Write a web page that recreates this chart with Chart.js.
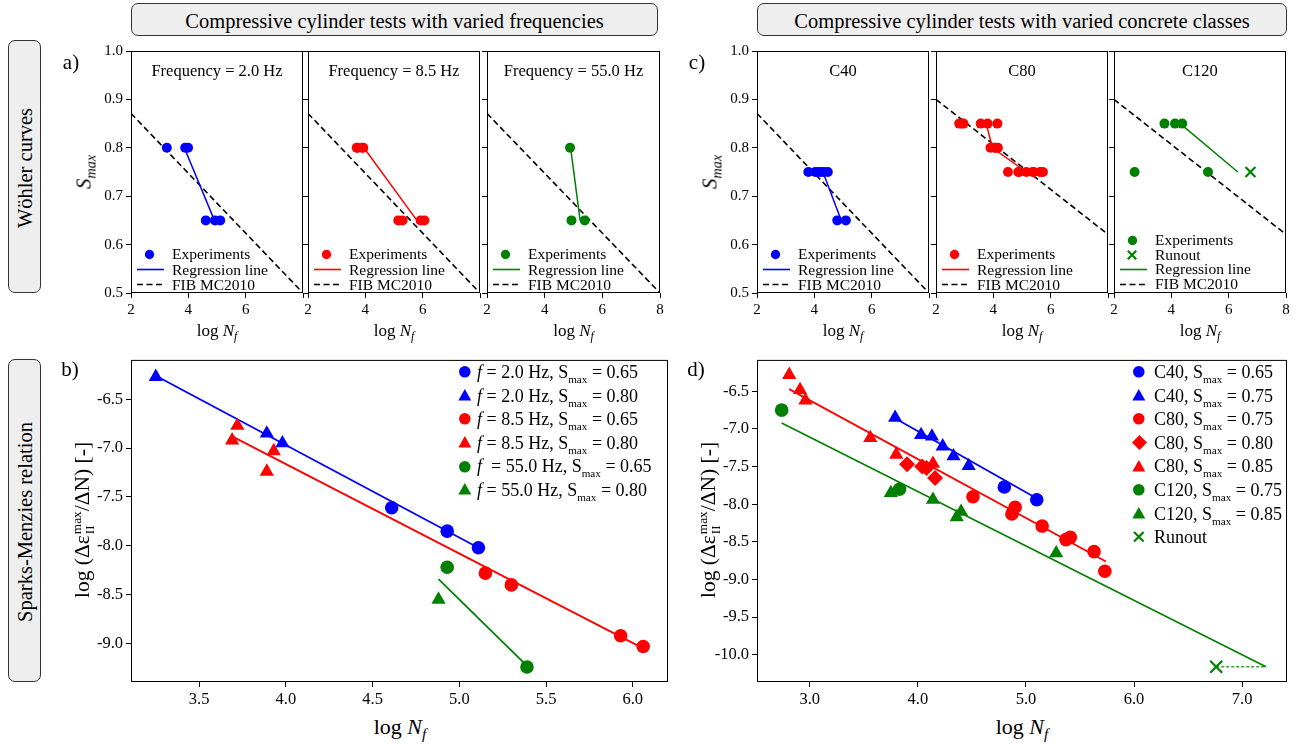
<!DOCTYPE html>
<html>
<head>
<meta charset="utf-8">
<script src="https://cdn.jsdelivr.net/npm/chart.js@4/dist/chart.umd.min.js"></script>
<style>
body{margin:0;background:#fff;}
#fig{position:relative;width:1301px;height:744px;font-family:'Liberation Serif','Times New Roman',serif;color:#000;overflow:hidden;background:#fff}
#fig canvas{position:absolute}
.t{position:absolute;white-space:nowrap;line-height:1}
.box{position:absolute;border:1px solid #333;border-radius:7px;background:#eeeeee;box-sizing:border-box}
sub,sup{line-height:0}
.ss{display:inline-flex;flex-direction:column;vertical-align:middle;font-size:0.62em;line-height:0.95;margin-left:1px}
</style>
</head>
<body>
<div id="fig"></div>
<script>
// ---- data: Wöhler curves (log Nf vs Smax) ----
const fibX = [2, 8];
const fibY1 = [0.871, 0.5];
const fibY2 = [0.90, 0.621];

const f2X = [3.25, 3.89, 3.99, 4.61, 4.93, 5.11];
const f2Y = [0.80, 0.80, 0.80, 0.65, 0.65, 0.65];
const f2RegX = [3.86, 4.91];
const f2RegY = [0.80, 0.65];

const f85X = [3.70, 3.73, 3.89, 3.93, 5.15, 5.30, 5.93, 6.06];
const f85Y = [0.80, 0.80, 0.80, 0.80, 0.65, 0.65, 0.65, 0.65];
const f85RegX = [3.95, 5.80];
const f85RegY = [0.80, 0.65];

const f55X = [4.88, 4.93, 5.39];
const f55Y = [0.80, 0.65, 0.65];
const f55RegX = [4.90, 5.23];
const f55RegY = [0.80, 0.65];

const c40X = [3.79, 4.03, 4.13, 4.23, 4.33, 4.47, 4.80, 5.10];
const c40Y = [0.75, 0.75, 0.75, 0.75, 0.75, 0.75, 0.65, 0.65];
const c40RegX = [4.30, 4.94];
const c40RegY = [0.75, 0.65];

const c80X = [2.81, 2.91, 2.96, 3.56, 3.80, 4.14, 3.90, 4.04, 4.08, 4.16, 4.51, 4.87, 4.90, 5.15, 5.37, 5.41, 5.63, 5.73];
const c80Y = [0.85, 0.85, 0.85, 0.85, 0.85, 0.85, 0.80, 0.80, 0.80, 0.80, 0.75, 0.75, 0.75, 0.75, 0.75, 0.75, 0.75, 0.75];
const c80RegX = [3.75, 3.97, 5.15];
const c80RegY = [0.85, 0.80, 0.75];

const c120X = [3.76, 4.13, 4.38, 2.72, 5.28];
const c120Y = [0.85, 0.85, 0.85, 0.75, 0.75];
const c120RunX = [6.76];
const c120RunY = [0.75];
const c120RegX = [4.31, 6.32];
const c120RegY = [0.85, 0.75];

// ---- data: Sparks-Menzies, frequencies (b) ----
const b2cX = [4.61, 4.93, 5.11], b2cY = [-7.61, -7.85, -8.02];
const b2tX = [3.25, 3.89, 3.98], b2tY = [-6.27, -6.85, -6.95];
const b85cX = [5.15, 5.30, 5.93, 6.06], b85cY = [-8.28, -8.40, -8.92, -9.03];
const b85tX = [3.69, 3.72, 3.89, 3.93], b85tY = [-6.92, -6.77, -7.24, -7.03];
const b55cX = [4.93, 5.39], b55cY = [-8.22, -9.24];
const b55tX = [4.88], b55tY = [-8.55];
const b2LineX = [3.25, 5.11], b2LineY = [-6.26, -8.02];
const b85LineX = [3.69, 6.06], b85LineY = [-6.88, -9.05];
const b55LineX = [4.88, 5.39], b55LineY = [-8.34, -9.23];

// ---- data: Sparks-Menzies, concrete classes (d) ----
const d40cX = [4.80, 5.10], d40cY = [-7.77, -7.94];
const d40tX = [3.79, 4.03, 4.13, 4.23, 4.33, 4.47], d40tY = [-6.85, -7.08, -7.10, -7.23, -7.36, -7.49];
const d80cX = [4.51, 4.87, 4.90, 5.15, 5.37, 5.41, 5.63, 5.73], d80cY = [-7.90, -8.13, -8.04, -8.29, -8.47, -8.44, -8.63, -8.89];
const d80dX = [3.90, 4.04, 4.08, 4.16], d80dY = [-7.47, -7.50, -7.52, -7.65];
const d80tX = [2.81, 2.91, 2.96, 3.56, 3.80, 4.14], d80tY = [-6.28, -6.48, -6.62, -7.12, -7.34, -7.46];
const d120cX = [2.74, 3.83], d120cY = [-6.75, -7.80];
const d120tX = [3.75, 4.14, 4.36, 4.40, 5.28], d120tY = [-7.85, -7.94, -8.17, -8.10, -8.65];
const dRunX = [6.76], dRunY = [-10.16];
const d40LineX = [3.78, 5.11], d40LineY = [-6.85, -7.93];
const d80LineX = [2.81, 5.74], d80LineY = [-6.47, -8.76];
const d120LineX = [2.74, 7.22], d120LineY = [-6.92, -10.16];
const dRunLineX = [6.76, 7.22], dRunLineY = [-10.16, -10.16];

// ticks
const wTicksX = [2, 4, 6, 8];
const wTicksY = [0.5, 0.6, 0.7, 0.8, 0.9, 1.0];
const bTicksX = [3.5, 4.0, 4.5, 5.0, 5.5, 6.0];
const bTicksY = [-9.0, -8.5, -8.0, -7.5, -7.0, -6.5];
const dTicksX = [3.0, 4.0, 5.0, 6.0, 7.0];
const dTicksY = [-10.0, -9.5, -9.0, -8.5, -8.0, -7.5, -7.0, -6.5];

const blue = '#0000ff', red = '#ff0000', green = '#008000';

Chart.defaults.font.family = "'Liberation Serif', 'Times New Roman', serif";
Chart.defaults.color = '#000';

const fig = document.getElementById('fig');

const frame = {
  id: 'frame',
  afterDraw(c) {
    const a = c.chartArea, ctx = c.ctx;
    ctx.save();
    ctx.strokeStyle = '#000';
    ctx.lineWidth = 1;
    ctx.strokeRect(a.left + 0.5, a.top + 0.5, a.right - a.left - 1, a.bottom - a.top - 1);
    ctx.restore();
  }
};

function pts(xs, ys) { return xs.map((x, i) => ({x: x, y: ys[i]})); }
function marks(xs, ys, color, style, r) {
  return {data: pts(xs, ys), pointStyle: style, pointRadius: r, backgroundColor: color, borderColor: color,
          borderWidth: style === 'crossRot' ? 2.2 : 0, showLine: false};
}
function line(xs, ys, color, dash, w) {
  return {data: pts(xs, ys), showLine: true, pointRadius: 0, borderColor: color, borderWidth: w || 1.5,
          borderDash: dash || [], fill: false};
}

function axis(s, size, dir) {
  return {
    type: 'linear', min: s.min, max: s.max,
    afterBuildTicks: sc => { sc.ticks = s.ticks.map(v => ({value: v})); },
    afterFit: sc => { if (dir === 'x') sc.height = size; else sc.width = size; },
    grid: {drawOnChartArea: false, drawTicks: true, tickLength: 5, color: '#000'},
    border: {display: false},
    ticks: {font: {size: s.fs}, padding: 3, maxRotation: 0, autoSkip: false, callback: v => s.fmt(v)}
  };
}

function makeChart(r, datasets, xs, ys, padL, padB) {
  const padT = 12, padR = 14;
  const cv = document.createElement('canvas');
  const w = r[2] - r[0], h = r[3] - r[1];
  cv.width = w + padL + padR; cv.height = h + padT + padB;
  cv.style.left = (r[0] - padL) + 'px'; cv.style.top = (r[1] - padT) + 'px';
  cv.style.width = cv.width + 'px'; cv.style.height = cv.height + 'px';
  fig.appendChild(cv);
  new Chart(cv, {
    type: 'scatter',
    data: {datasets: datasets},
    options: {
      responsive: false, devicePixelRatio: 1, animation: false,
      layout: {padding: {top: padT, right: padR, left: 0, bottom: 0}},
      plugins: {legend: {display: false}, tooltip: {enabled: false}},
      scales: {x: axis(xs, padB, 'x'), y: axis(ys, padL, 'y')}
    },
    plugins: [frame]
  });
}

function txt(html, x, y, size, opt) {
  opt = opt || {};
  const d = document.createElement('div');
  d.className = 't';
  d.innerHTML = html;
  d.style.fontSize = size + 'px';
  d.style.left = x + 'px'; d.style.top = y + 'px';
  let tr = opt.left ? 'translate(0,-50%)' : 'translate(-50%,-50%)';
  if (opt.rot) tr += ' rotate(-90deg)';
  d.style.transform = tr;
  fig.appendChild(d);
  return d;
}

function marker(kind, color, x, y, s) {
  const ns = 'http://www.w3.org/2000/svg';
  const sv = document.createElementNS(ns, 'svg');
  const W = (kind === 'line' || kind === 'dash') ? 27 : 2 * s + 2, H = 2 * s + 2;
  sv.setAttribute('width', W); sv.setAttribute('height', H);
  sv.style.position = 'absolute';
  sv.style.left = (x - W / 2) + 'px'; sv.style.top = (y - H / 2) + 'px';
  const c = W / 2, m = H / 2;
  let el;
  if (kind === 'circle') {
    el = document.createElementNS(ns, 'circle');
    el.setAttribute('cx', c); el.setAttribute('cy', m); el.setAttribute('r', s * 0.85); el.setAttribute('fill', color);
  } else if (kind === 'tri') {
    el = document.createElementNS(ns, 'polygon');
    el.setAttribute('points', `${c},${m - s} ${c + s * 0.95},${m + s * 0.7} ${c - s * 0.95},${m + s * 0.7}`);
    el.setAttribute('fill', color);
  } else if (kind === 'dia') {
    el = document.createElementNS(ns, 'polygon');
    el.setAttribute('points', `${c},${m - s} ${c + s},${m} ${c},${m + s} ${c - s},${m}`);
    el.setAttribute('fill', color);
  } else if (kind === 'x') {
    el = document.createElementNS(ns, 'path');
    const k = s * 0.7;
    el.setAttribute('d', `M${c - k},${m - k}L${c + k},${m + k}M${c - k},${m + k}L${c + k},${m - k}`);
    el.setAttribute('stroke', color); el.setAttribute('stroke-width', 2.2);
  } else {
    el = document.createElementNS(ns, 'line');
    el.setAttribute('x1', 0); el.setAttribute('x2', W); el.setAttribute('y1', m); el.setAttribute('y2', m);
    el.setAttribute('stroke', color); el.setAttribute('stroke-width', 1.6);
    if (kind === 'dash') el.setAttribute('stroke-dasharray', '6 3.5');
  }
  sv.appendChild(el);
  fig.appendChild(sv);
}

// ---- header boxes and side labels ----
function box(x, y, w, h, html, size, rot) {
  const b = document.createElement('div');
  b.className = 'box';
  b.style.left = x + 'px'; b.style.top = y + 'px'; b.style.width = w + 'px'; b.style.height = h + 'px';
  fig.appendChild(b);
  txt(html, x + w / 2, y + h / 2 + 1, size, {rot: rot});
}
box(131, 3, 527, 33, 'Compressive cylinder tests with varied frequencies', 20.5);
box(757, 3, 530, 33, 'Compressive cylinder tests with varied concrete classes', 20.5);
box(8, 40, 33, 253, 'Wöhler curves', 20.5, true);
box(8, 359, 33, 323, 'Sparks-Menzies relation', 20.5, true);

// ---- Wöhler panels ----
const RA = [[131, 51, 303, 293], [308, 51, 480, 293], [487, 51, 660, 293]];
const RC = [[757, 51, 929, 293], [936, 51, 1108, 293], [1114, 51, 1286, 293]];

function wAxes(first, last) {
  return [
    {min: 2, max: 8, ticks: wTicksX, fs: 15, fmt: v => (last || v < 8) ? String(v) : ''},
    {min: 0.5, max: 1.0, ticks: wTicksY, fs: 15, fmt: v => first ? v.toFixed(1) : ''}
  ];
}

const wPanels = [
  {r: RA[0], c: blue, x: f2X, y: f2Y, rx: f2RegX, ry: f2RegY, fy: fibY1, t: 'Frequency = 2.0 Hz'},
  {r: RA[1], c: red, x: f85X, y: f85Y, rx: f85RegX, ry: f85RegY, fy: fibY1, t: 'Frequency = 8.5 Hz'},
  {r: RA[2], c: green, x: f55X, y: f55Y, rx: f55RegX, ry: f55RegY, fy: fibY1, t: 'Frequency = 55.0 Hz'},
  {r: RC[0], c: blue, x: c40X, y: c40Y, rx: c40RegX, ry: c40RegY, fy: fibY1, t: 'C40'},
  {r: RC[1], c: red, x: c80X, y: c80Y, rx: c80RegX, ry: c80RegY, fy: fibY2, t: 'C80'},
  {r: RC[2], c: green, x: c120X, y: c120Y, rx: c120RegX, ry: c120RegY, fy: fibY2, t: 'C120', run: true}
];

wPanels.forEach((p, i) => {
  const first = i % 3 === 0, last = i % 3 === 2;
  const ds = [marks(p.x, p.y, p.c, 'circle', 5)];
  if (p.run) ds.push(marks(c120RunX, c120RunY, p.c, 'crossRot', 7));
  ds.push(line(p.rx, p.ry, p.c, [], 1.5));
  ds.push(line(fibX, p.fy, '#000', [6, 3.5], 1.6));
  const ax = wAxes(first, last);
  makeChart(p.r, ds, ax[0], ax[1], 45, 30);
  const L = p.r[0], cx = (p.r[0] + p.r[2]) / 2;
  txt(p.t, cx, 71, 16.5);
  txt('log <i>N<sub style="font-size:0.7em">f</sub></i>', cx, 330, 17);
  // legend
  const rows = p.run
    ? [['circle', 'Experiments', 240], ['x', 'Runout', 254.5], ['line', 'Regression line', 269], ['dash', 'FIB MC2010', 284]]
    : [['circle', 'Experiments', 254], ['line', 'Regression line', 269.5], ['dash', 'FIB MC2010', 284.5]];
  rows.forEach(rw => {
    const col = rw[0] === 'dash' ? '#000' : p.c;
    const mx = (rw[0] === 'line' || rw[0] === 'dash') ? L + 19 : L + 18;
    marker(rw[0], col, mx, rw[2], rw[0] === 'x' ? 6 : 5.5);
    txt(rw[1], L + 41, rw[2], 15.5, {left: true});
  });
});

txt('a)', 71, 62, 21);
txt('c)', 697, 62, 21);
txt('<i>S<sub style="font-size:0.68em">max</sub></i>', 84, 172, 21, {rot: true});
txt('<i>S<sub style="font-size:0.68em">max</sub></i>', 710, 172, 21, {rot: true});

// ---- panel b ----
const RB = [131, 359, 668, 682];
makeChart(RB, [
  marks(b2cX, b2cY, blue, 'circle', 6.8),
  marks(b2tX, b2tY, blue, 'triangle', 8.2),
  marks(b85cX, b85cY, red, 'circle', 6.8),
  marks(b85tX, b85tY, red, 'triangle', 8.2),
  marks(b55cX, b55cY, green, 'circle', 6.8),
  marks(b55tX, b55tY, green, 'triangle', 8.2),
  line(b2LineX, b2LineY, blue, [], 1.8),
  line(b85LineX, b85LineY, red, [], 1.8),
  line(b55LineX, b55LineY, green, [], 1.8)
], {min: 3.107, max: 6.203, ticks: bTicksX, fs: 16.5, fmt: v => v.toFixed(1)},
   {min: -9.394, max: -6.097, ticks: bTicksY, fs: 16.5, fmt: v => v.toFixed(1)}, 60, 32);

// ---- panel d ----
const RD = [757, 359, 1287, 682];
makeChart(RD, [
  marks(d40cX, d40cY, blue, 'circle', 6.8),
  marks(d40tX, d40tY, blue, 'triangle', 8.2),
  marks(d80cX, d80cY, red, 'circle', 6.8),
  marks(d80dX, d80dY, red, 'rectRot', 8),
  marks(d80tX, d80tY, red, 'triangle', 8.2),
  marks(d120cX, d120cY, green, 'circle', 6.8),
  marks(d120tX, d120tY, green, 'triangle', 8.2),
  marks(dRunX, dRunY, green, 'crossRot', 8.5),
  line(d40LineX, d40LineY, blue, [], 1.8),
  line(d80LineX, d80LineY, red, [], 1.8),
  line(d120LineX, d120LineY, green, [], 1.6),
  line(dRunLineX, dRunLineY, '#33a033', [3, 2], 1.4)
], {min: 2.512, max: 7.415, ticks: dTicksX, fs: 16.5, fmt: v => v.toFixed(1)},
   {min: -10.362, max: -6.082, ticks: dTicksY, fs: 16.5, fmt: v => v.toFixed(1)}, 60, 32);

txt('b)', 70, 369, 21);
txt('d)', 696, 369, 21);
const yLab = 'log (Δε<span class="ss"><span>max</span><span>II</span></span>/ΔN) [-]';
txt(yLab, 84, 520, 21.5, {rot: true});
txt(yLab, 710, 520, 21.5, {rot: true});
txt('log <i>N<sub style="font-size:0.7em">f</sub></i>', 400, 727, 22);
txt('log <i>N<sub style="font-size:0.7em">f</sub></i>', 1022, 727, 22);

const S = 'S<sub style="font-size:0.62em">max</sub>';
const bLeg = [
  ['circle', blue, '<i>f</i> = 2.0 Hz, ' + S + ' = 0.65'],
  ['tri', blue, '<i>f</i> = 2.0 Hz, ' + S + ' = 0.80'],
  ['circle', red, '<i>f</i> = 8.5 Hz, ' + S + ' = 0.65'],
  ['tri', red, '<i>f</i> = 8.5 Hz, ' + S + ' = 0.80'],
  ['circle', green, '<i>f</i>&nbsp; = 55.0 Hz, ' + S + ' = 0.65'],
  ['tri', green, '<i>f</i> = 55.0 Hz, ' + S + ' = 0.80']
];
bLeg.forEach((e, i) => {
  const y = 372 + i * 23.6;
  marker(e[0], e[1], 465, y, 6.8);
  txt(e[2], 477, y, 18, {left: true});
});

const dLeg = [
  ['circle', blue, 'C40, ' + S + ' = 0.65'],
  ['tri', blue, 'C40, ' + S + ' = 0.75'],
  ['circle', red, 'C80, ' + S + ' = 0.75'],
  ['dia', red, 'C80, ' + S + ' = 0.80'],
  ['tri', red, 'C80, ' + S + ' = 0.85'],
  ['circle', green, 'C120, ' + S + ' = 0.75'],
  ['tri', green, 'C120, ' + S + ' = 0.85'],
  ['x', green, 'Runout']
];
dLeg.forEach((e, i) => {
  const y = 372 + i * 23.6;
  marker(e[0], e[1], 1139, y, e[0] === 'dia' ? 7.5 : 6.8);
  txt(e[2], 1154, y, 18, {left: true});
});
</script>
</body>
</html>
